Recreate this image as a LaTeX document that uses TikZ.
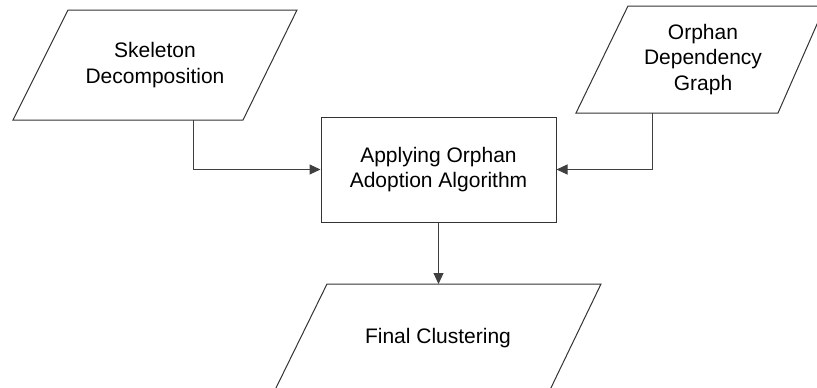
\documentclass[tikz,border=0pt]{standalone}
\usepackage{fontspec}
\setmainfont{Liberation Sans}
\usetikzlibrary{arrows.meta}
\begin{document}
\begin{tikzpicture}[x=1pt,y=-1pt,
  shapeline/.style={draw=black!80,line width=1pt},
  lbl/.style={align=center,font=\fontsize{21}{25.5}\selectfont,inner sep=0pt},
  conn/.style={draw=black!75,line width=1pt,-{Triangle[length=11pt,width=10pt]}}]
\useasboundingbox (0,0) rectangle (817,388);
% Skeleton Decomposition
\draw[shapeline] (68,10) -- (297,10) -- (243,120) -- (13,120) -- cycle;
\node[lbl] (sd) at (155,65) {Skeleton\\Decomposition};
\coordinate (sdb) at (193,120);
% Orphan Dependency Graph
\draw[shapeline] (628,6) -- (825,6) -- (778,113) -- (576,113) -- cycle;
\node[lbl] (odg) at (703,59.5) {Orphan\\Dependency\\Graph};
\coordinate (odgb) at (652,113);
% Box
\node[shapeline,lbl,minimum width=235pt,minimum height=105pt] (oaa) at (438.5,169.5) {Applying Orphan\\Adoption Algorithm};
% Final Clustering
\draw[shapeline] (327,284) -- (601,284) -- (548,394) -- (273,394) -- cycle;
\node[lbl] (fc) at (438,338) {Final Clustering};
\coordinate (fct) at (438.5,284);
% connectors
\draw[conn] (sdb) |- (oaa.west);
\draw[conn] (odgb) |- (oaa.east);
\draw[conn] (oaa.south) -- (fct);
\end{tikzpicture}
\end{document}
